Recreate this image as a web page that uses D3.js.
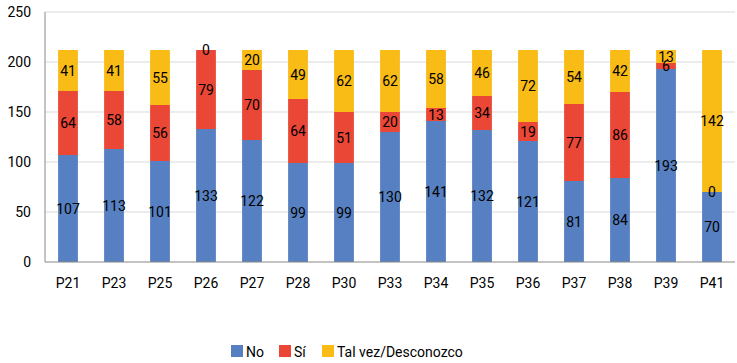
<!DOCTYPE html>
<html>
<head>
<meta charset="utf-8">
<script src="https://cdn.jsdelivr.net/npm/d3@7"></script>
<style>
  body { margin: 0; background: #fff; }
  text { font-family: Roboto, "DejaVu Sans", sans-serif; }
</style>
</head>
<body>
<div id="chart"></div>
<script>
// data
var categories = ["P21", "P23", "P25", "P26", "P27", "P28", "P30", "P33", "P34", "P35", "P36", "P37", "P38", "P39", "P41"];
var noValues = [107, 113, 101, 133, 122, 99, 99, 130, 141, 132, 121, 81, 84, 193, 70];
var siValues = [64, 58, 56, 79, 70, 64, 51, 20, 13, 34, 19, 77, 86, 6, 0];
var talVezValues = [41, 41, 55, 0, 20, 49, 62, 62, 58, 46, 72, 54, 42, 13, 142];
var seriesNames = ["No", "Sí", "Tal vez/Desconozco"];
var yTicks = [0, 50, 100, 150, 200, 250];

var colors = ["#5680c1", "#ea4737", "#f9bb15"];

var svgWidth = 737;
var svgHeight = 363;
var margin = { top: 12, right: 2, bottom: 101, left: 45 };
var width = svgWidth - margin.left - margin.right;
var height = svgHeight - margin.top - margin.bottom;

var svg = d3.select("#chart")
  .append("svg")
  .attr("width", svgWidth)
  .attr("height", svgHeight);

var chartGroup = svg.append("g")
  .attr("transform", `translate(${margin.left}, ${margin.top})`);

// build rows for the stack
var rows = categories.map(function(c, i) {
  return { cat: c, No: noValues[i], "Sí": siValues[i], "Tal vez/Desconozco": talVezValues[i] };
});
var stacked = d3.stack().keys(seriesNames)(rows);

var xScale = d3.scaleBand()
  .domain(categories)
  .range([0, width])
  .paddingInner(0.57)
  .paddingOuter(0.285);

var yScale = d3.scaleLinear()
  .domain([0, 250])
  .range([height, 0]);

// gridlines
chartGroup.append("g")
  .selectAll("line")
  .data(yTicks.slice(1))
  .enter()
  .append("line")
  .attr("x1", 0)
  .attr("x2", width)
  .attr("y1", d => yScale(d))
  .attr("y2", d => yScale(d))
  .attr("stroke", "#d9d9d9")
  .attr("stroke-width", 1);

// y tick labels
var leftAxis = d3.axisLeft(yScale).tickValues(yTicks).tickSize(0).tickPadding(14);
var yAxis = chartGroup.append("g").call(leftAxis);
yAxis.select(".domain").remove();
yAxis.selectAll("text")
  .attr("font-size", "14px")
  .attr("fill", "#000")
  .style("font-family", "Roboto, sans-serif");

// bars
var layers = chartGroup.selectAll(".layer")
  .data(stacked)
  .enter()
  .append("g")
  .attr("class", "layer")
  .attr("fill", (d, i) => colors[i]);

layers.selectAll("rect")
  .data(d => d)
  .enter()
  .append("rect")
  .attr("x", d => xScale(d.data.cat))
  .attr("y", d => yScale(d[1]))
  .attr("width", xScale.bandwidth())
  .attr("height", d => yScale(d[0]) - yScale(d[1]));

// value labels, drawn on top of every bar
var labelData = [];
stacked.forEach(function(s) {
  s.forEach(function(p) { labelData.push({ p: p, key: s.key }); });
});
chartGroup.append("g")
  .selectAll("text")
  .data(labelData)
  .enter()
  .append("text")
  .attr("x", d => xScale(d.p.data.cat) + xScale.bandwidth() / 2)
  .attr("y", d => yScale((d.p[0] + d.p[1]) / 2))
  .attr("dy", "0.36em")
  .attr("text-anchor", "middle")
  .attr("font-size", "14px")
  .attr("fill", "#000")
  .text(d => d.p.data[d.key]);

// axis lines
chartGroup.append("line")
  .attr("x1", 0).attr("x2", 0)
  .attr("y1", 0).attr("y2", height)
  .attr("stroke", "#888");
chartGroup.append("line")
  .attr("x1", 0).attr("x2", width)
  .attr("y1", height).attr("y2", height)
  .attr("stroke", "#888");

// x labels
var bottomAxis = d3.axisBottom(xScale).tickSize(0).tickPadding(16);
var xAxis = chartGroup.append("g")
  .attr("transform", `translate(0, ${height})`)
  .call(bottomAxis);
xAxis.select(".domain").remove();
xAxis.selectAll("text")
  .attr("font-size", "14px")
  .attr("fill", "#000")
  .style("font-family", "Roboto, sans-serif");

// legend
var legendItems = [
  { name: "No", x: 231 },
  { name: "Sí", x: 279 },
  { name: "Tal vez/Desconozco", x: 322 }
];
var legend = svg.append("g");
legendItems.forEach(function(item, i) {
  legend.append("rect")
    .attr("x", item.x)
    .attr("y", 345)
    .attr("width", 12)
    .attr("height", 12)
    .attr("fill", colors[i]);
  legend.append("text")
    .attr("x", item.x + 15)
    .attr("y", 352)
    .attr("dy", "0.36em")
    .attr("font-size", "14px")
    .attr("fill", "#000")
    .text(item.name);
});
</script>
</body>
</html>
